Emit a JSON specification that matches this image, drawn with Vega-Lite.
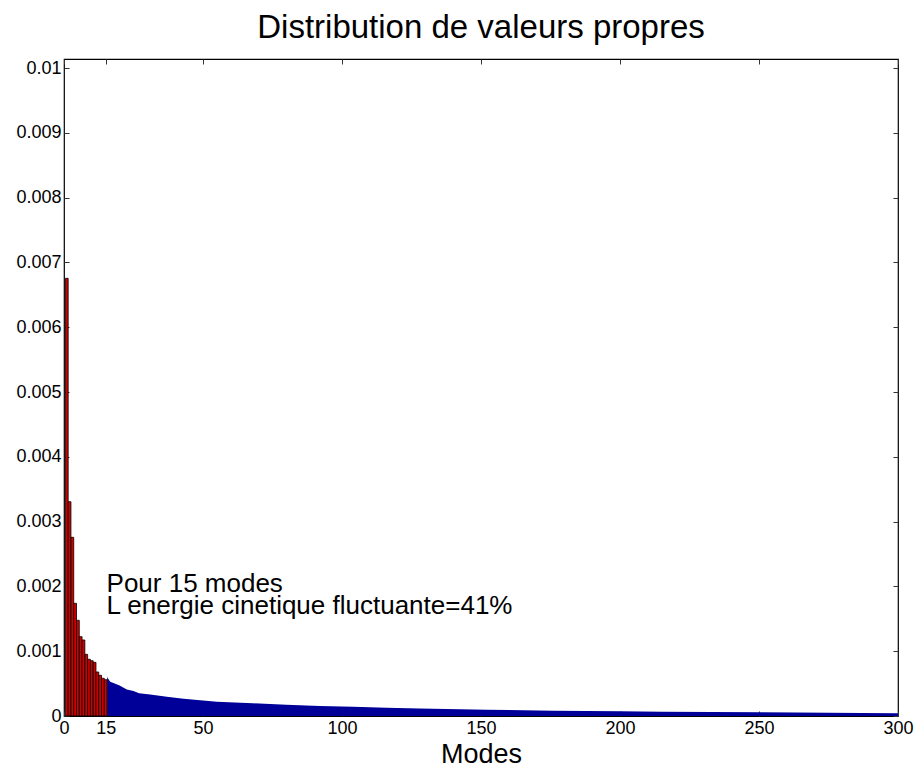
{
  "$schema": "https://vega.github.io/schema/vega-lite/v6.json",
  "autosize": "none",
  "width": 834,
  "height": 657,
  "padding": {"left": 64, "top": 59, "right": 21, "bottom": 56},
  "background": "white",
  "config": {
    "font": "Liberation Sans",
    "view": {"stroke": "black", "strokeWidth": 1.2},
    "axis": {"grid": false, "domain": false, "labelColor": "black", "tickColor": "#333", "labelFont": "Liberation Sans", "titleFont": "Liberation Sans"}
  },
  "title": {"text": "Distribution de valeurs propres", "fontSize": 33, "fontWeight": "normal", "color": "black", "offset": 14, "font": "Liberation Sans"},
  "datasets": {
    "red": [
      {"mode": 1, "value": 0.006755},
      {"mode": 2, "value": 0.003307},
      {"mode": 3, "value": 0.002758},
      {"mode": 4, "value": 0.001739},
      {"mode": 5, "value": 0.001477},
      {"mode": 6, "value": 0.001224},
      {"mode": 7, "value": 0.001173},
      {"mode": 8, "value": 0.000952},
      {"mode": 9, "value": 0.000875},
      {"mode": 10, "value": 0.000853},
      {"mode": 11, "value": 0.000828},
      {"mode": 12, "value": 0.000679},
      {"mode": 13, "value": 0.000628},
      {"mode": 14, "value": 0.000582},
      {"mode": 15, "value": 0.000560}
    ],
    "blue": [
      {"mode": 15.5, "value": 0.00060},
      {"mode": 16.6, "value": 0.00053},
      {"mode": 18, "value": 0.000505},
      {"mode": 20, "value": 0.00047},
      {"mode": 22.6, "value": 0.00041},
      {"mode": 25, "value": 0.000386},
      {"mode": 27, "value": 0.00035},
      {"mode": 31, "value": 0.00033},
      {"mode": 37, "value": 0.000298},
      {"mode": 43, "value": 0.000267},
      {"mode": 49, "value": 0.000242},
      {"mode": 55, "value": 0.000221},
      {"mode": 68, "value": 0.000196},
      {"mode": 80, "value": 0.000174},
      {"mode": 92, "value": 0.000154},
      {"mode": 104, "value": 0.000144},
      {"mode": 116, "value": 0.000128},
      {"mode": 128, "value": 0.000116},
      {"mode": 152, "value": 0.000097},
      {"mode": 176, "value": 0.000082},
      {"mode": 200, "value": 0.000072},
      {"mode": 215, "value": 0.000067},
      {"mode": 251, "value": 0.000057},
      {"mode": 287, "value": 0.000046},
      {"mode": 300, "value": 0.000042}
    ],
    "notes": [
      {"mode": 15.3, "value": 0.00204, "label": "Pour 15 modes"},
      {"mode": 15.3, "value": 0.00170, "label": "L energie cinetique fluctuante=41%"}
    ]
  },
  "layer": [
    {
      "data": {"name": "blue"},
      "mark": {"type": "area", "color": "#000099", "interpolate": "linear", "clip": true},
      "encoding": {
        "x": {"field": "mode", "type": "quantitative", "scale": {"domain": [0, 300], "nice": false, "zero": false, "padding": 0},
              "axis": {"orient": "bottom", "values": [0, 15, 50, 100, 150, 200, 250, 300], "title": "Modes", "titleFontSize": 27, "titleFontWeight": "normal", "titleColor": "black", "titlePadding": 4, "labelFontSize": 18, "tickSize": -5, "labelPadding": 8, "labelFlush": false}},
        "y": {"field": "value", "type": "quantitative", "scale": {"domain": [0, 0.01014], "nice": false},
              "axis": {"orient": "left", "values": [0, 0.001, 0.002, 0.003, 0.004, 0.005, 0.006, 0.007, 0.008, 0.009, 0.01], "format": "~g", "title": null, "labelFontSize": 18, "tickSize": -5, "labelPadding": 8}}
      }
    },
    {
      "data": {"name": "red"},
      "mark": {"type": "bar", "color": "#D00000", "stroke": "black", "strokeWidth": 0.8, "width": 2.78},
      "encoding": {
        "x": {"field": "mode", "type": "quantitative", "axis": {"orient": "top", "values": [0, 15, 50, 100, 150, 200, 250, 300], "labels": false, "title": null, "tickSize": -5}},
        "y": {"field": "value", "type": "quantitative", "axis": {"orient": "right", "values": [0, 0.001, 0.002, 0.003, 0.004, 0.005, 0.006, 0.007, 0.008, 0.009, 0.01], "labels": false, "title": null, "tickSize": -5}}
      }
    },
    {
      "data": {"name": "notes"},
      "mark": {"type": "text", "align": "left", "baseline": "middle", "fontSize": 26, "color": "black", "font": "Liberation Sans"},
      "encoding": {
        "x": {"field": "mode", "type": "quantitative", "axis": null},
        "y": {"field": "value", "type": "quantitative", "axis": null},
        "text": {"field": "label"}
      }
    }
  ],
  "resolve": {"axis": {"x": "independent", "y": "independent"}}
}
